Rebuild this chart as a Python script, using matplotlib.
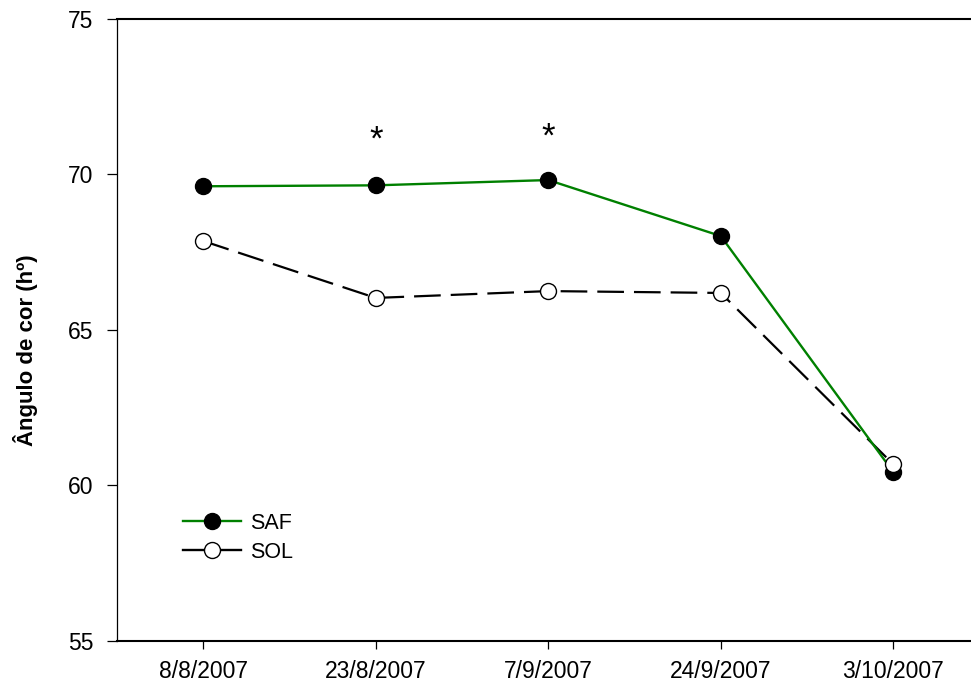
import matplotlib
matplotlib.use('Agg')
import matplotlib.pyplot as plt

# Datas de coleta e ângulo de cor médio
datas = ['8/8/2007', '23/8/2007', '7/9/2007', '24/9/2007', '3/10/2007']
saf = [69.62, 69.65, 69.82, 68.02, 60.43]
sol = [67.86, 66.03, 66.25, 66.19, 60.68]
# datas com diferença significativa (*)
signif = [1, 2]
pos_asterisco = [71.1, 71.2]

plt.rcParams['font.family'] = ['Liberation Sans', 'DejaVu Sans']

fig = plt.figure(figsize=(9.71, 6.84), dpi=100)
ax = fig.add_axes([0.1205, 0.0629, 0.8883, 0.9094])

x = list(range(len(datas)))

# linhas primeiro, marcadores por cima
ax.plot(x, sol, color='black', lw=1.6, dashes=(12, 4.5), zorder=2)
ax.plot(x, saf, color='green', lw=1.7, zorder=3)
ax.plot(x, saf, ls='none', marker='o', ms=11.5, mfc='black', mec='black', mew=1, zorder=4)
ax.plot(x, sol, ls='none', marker='o', ms=11.5, mfc='white', mec='black', mew=1, zorder=5)

for i, y in zip(signif, pos_asterisco):
    ax.text(x[i], y, '*', ha='center', va='center', fontsize=25)

# legenda
h_saf, = ax.plot([], [], color='green', lw=1.7, marker='o', ms=11.5, mfc='black', mec='black')
h_sol, = ax.plot([], [], color='black', lw=1.7, marker='o', ms=11.5, mfc='white', mec='black')
ax.legend([h_saf, h_sol], ['SAF', 'SOL'], loc='center left', bbox_to_anchor=(0.0765, 0.166),
          frameon=False, fontsize=15.5, handlelength=2.7, handletextpad=0.4,
          labelspacing=0.38, borderpad=0, borderaxespad=0)

ax.set_xlim(-0.5, 4.5)
ax.set_ylim(55, 75)
ax.set_xticks(x)
ax.set_xticklabels(datas)
ax.set_yticks([55, 60, 65, 70, 75])

ax.spines['right'].set_visible(False)
ax.spines['left'].set_linewidth(0.9)
ax.spines['top'].set_linewidth(1.5)
ax.spines['bottom'].set_linewidth(1.5)
ax.tick_params(axis='y', direction='out', length=7, width=0.9, pad=10, labelsize=16.5)
ax.tick_params(axis='x', direction='out', length=6, width=0.9, pad=8, labelsize=16.5)

fig.text(25 / 971, 0.488, 'Ângulo de cor (hº)', rotation=90, ha='center', va='center',
         fontsize=16, fontweight='bold')

fig.savefig('out.png', dpi=100)
